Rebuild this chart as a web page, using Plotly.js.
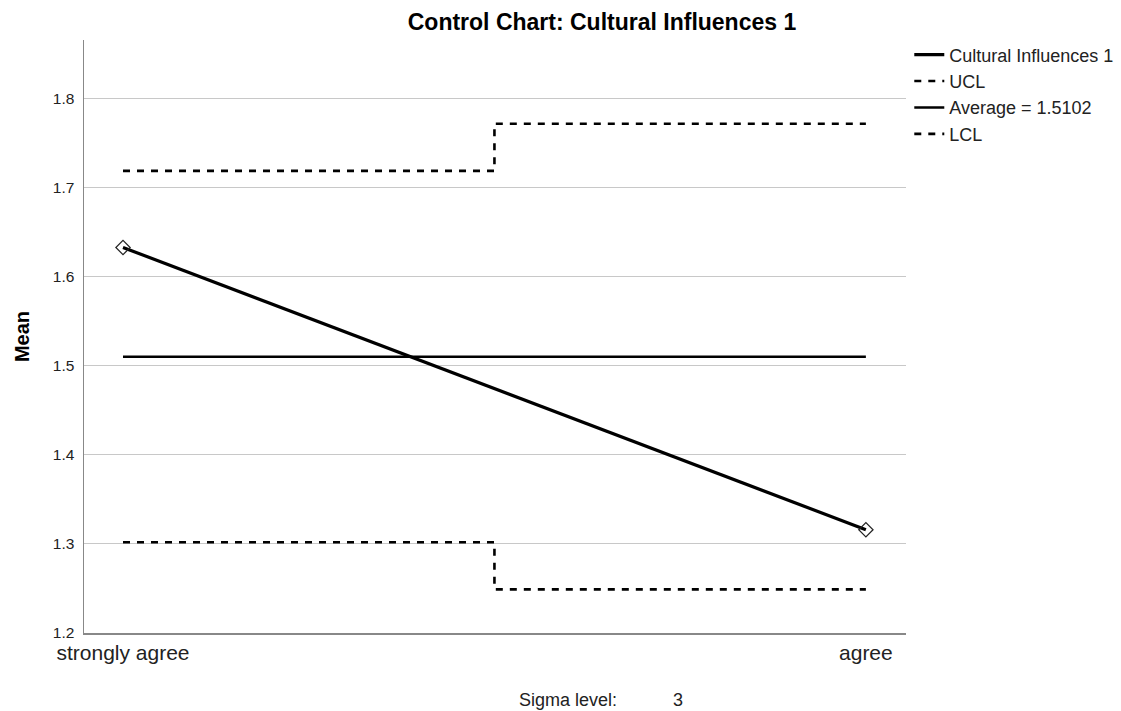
<!DOCTYPE html>
<html>
<head>
<meta charset="utf-8">
<script src="https://cdn.plot.ly/plotly-3.0.1.min.js"></script>
<style>html,body{margin:0;padding:0;background:#fff;}#chart{width:1121px;height:711px;}</style>
</head>
<body>
<div id="chart"></div>
<script>
const categories = ['strongly agree', 'agree'];
const means = [1.633, 1.316];
const average = 1.5102;
const ucl = [1.719, 1.772];
const lcl = [1.302, 1.249];
const sigmaLevel = 3;

const idx = categories.map((c, i) => i);
const stepX = [0, 0.5, 1];
function stepY(v) { return [v[0], v[1], v[1]]; }

const traces = [
  {
    x: idx, y: means, name: 'Cultural Influences 1', mode: 'lines',
    line: {color: '#000', width: 3.2}
  },
  {
    x: stepX, y: stepY(ucl), name: 'UCL', mode: 'lines',
    line: {color: '#000', width: 2.6, dash: '7px,7px', shape: 'hv'}
  },
  {
    x: [idx[0], idx[idx.length - 1]], y: [average, average], name: 'Average = ' + average.toFixed(4), mode: 'lines',
    line: {color: '#000', width: 2.6}
  },
  {
    x: stepX, y: stepY(lcl), name: 'LCL', mode: 'lines',
    line: {color: '#000', width: 2.6, dash: '7px,7px', shape: 'hv'}
  },
  {
    x: idx, y: means, name: 'points', mode: 'markers', showlegend: false,
    marker: {symbol: 'diamond-open', size: 11, color: '#222', line: {width: 1.2, color: '#222'}}
  }
];

const layout = {
  width: 1121, height: 711,
  margin: {l: 84, r: 215, t: 40, b: 78, autoexpand: false},
  paper_bgcolor: '#fff', plot_bgcolor: '#fff',
  font: {family: 'Liberation Sans, Arial, sans-serif', color: '#222'},
  showlegend: true,
  title: {
    text: '<b>Control Chart: Cultural Influences 1</b>',
    font: {size: 23, color: '#000'},
    xref: 'container', x: 602 / 1121, xanchor: 'center',
    yref: 'container', y: 1 - 22 / 711, yanchor: 'middle'
  },
  xaxis: {
    range: [-0.0525, 1.054],
    tickvals: idx, ticktext: categories,
    tickfont: {size: 21, color: '#222'},
    showgrid: false, zeroline: false,
    showline: true, linecolor: '#888', linewidth: 1.5,
    ticks: '', ticklen: 0, automargin: false
  },
  yaxis: {
    range: [1.2, 1.866],
    tickvals: [1.2, 1.3, 1.4, 1.5, 1.6, 1.7, 1.8],
    ticktext: ['1.2', '1.3', '1.4', '1.5', '1.6', '1.7', '1.8'],
    tickfont: {size: 15.5, color: '#222'},
    ticklabelstandoff: 5,
    showgrid: true, gridcolor: '#c8c8c8', gridwidth: 1,
    zeroline: false,
    showline: true, linecolor: '#888', linewidth: 1.5,
    ticks: '', ticklen: 0, automargin: false,
    title: {text: '<b>Mean</b>', font: {size: 20, color: '#000'}, standoff: 18}
  },
  legend: {
    x: 1.004, xanchor: 'left', y: 1.006, yanchor: 'top',
    font: {size: 18, color: '#222'},
    itemwidth: 30, tracegroupgap: 0,
    bgcolor: 'rgba(0,0,0,0)', borderwidth: 0
  },
  annotations: [
    {text: 'Sigma level:', xref: 'paper', yref: 'paper', x: (517 - 84) / 822, y: -(700 - 633) / 593,
     xanchor: 'left', yanchor: 'middle', showarrow: false, font: {size: 18, color: '#222'}},
    {text: String(sigmaLevel), xref: 'paper', yref: 'paper', x: (678 - 84) / 822, y: -(700 - 633) / 593,
     xanchor: 'center', yanchor: 'middle', showarrow: false, font: {size: 18, color: '#222'}}
  ]
};

Plotly.newPlot('chart', traces, layout, {displayModeBar: false, staticPlot: true});
</script>
</body>
</html>
